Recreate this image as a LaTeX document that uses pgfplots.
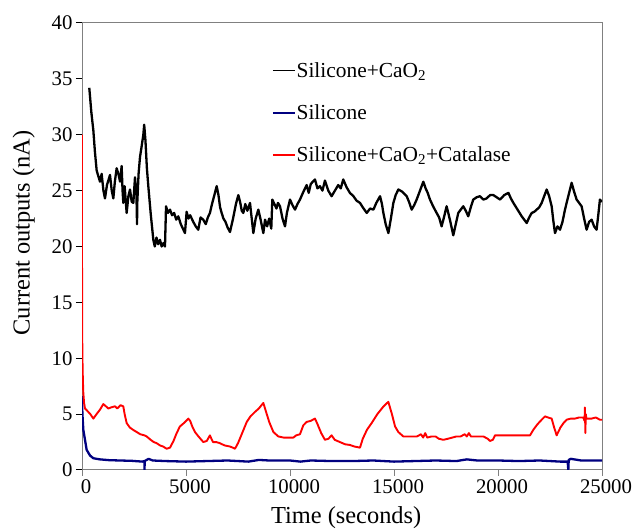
\documentclass[border=0pt]{standalone}
\usepackage{fontspec}
\setmainfont{Liberation Serif}
\usepackage{pgfplots}
\pgfplotsset{compat=1.18}
\definecolor{navyb}{RGB}{0,0,128}
\definecolor{axgray}{RGB}{128,128,128}
\begin{document}
\begin{tikzpicture}
\path[use as bounding box] (0pt,0pt) rectangle (632pt,529pt);
\begin{axis}[
  at={(82pt,59pt)}, anchor=south west,
  width=520pt, height=447pt, scale only axis,
  xmin=0, xmax=25000, ymin=0, ymax=40,
  xtick={0,5000,10000,15000,20000,25000},
  ytick={0,5,10,15,20,25,30,35,40},
  scaled ticks=false,
  /pgf/number format/1000 sep={},
  /pgf/number format/assume math mode=true,
  tick align=outside,
  xtick pos=bottom, ytick pos=left,
  major tick length=6pt,
  x axis line style={black, line width=1pt},
  y axis line style={axgray, line width=1pt},
  xtick style={axgray, line width=1pt},
  ytick style={black, line width=1pt},
  tick label style={font=\fontsize{20.8}{24}\selectfont},
  xticklabel style={xshift=4pt},
  label style={font=\fontsize{24.4}{28}\selectfont},
  xlabel={Time (seconds)},
  ylabel={Current outputs (nA)},
  xlabel style={at={(axis description cs:0.508,-0.107)}, anchor=center},
  ylabel style={at={(axis description cs:-0.112,0.53)}, anchor=center},
  legend cell align=left,
  legend style={draw=none, fill=none, at={(rel axis cs:0.365,0.915)}, anchor=north west,
    font=\fontsize{21.4}{24}\selectfont, inner sep=0pt, row sep=24pt,
    nodes={inner sep=1pt}},
  legend image code/.code={\draw[#1, line width=1.6pt] (0pt,0pt) -- (22pt,0pt);},
]
\addplot[black, line width=2.3pt, line join=round] coordinates {
(350,34.2)(450,32)(545,30.4)(620,28.5)(705,26.8)(800,26.2)(865,25.8)(945,26.5)
(1030,25.0)(1105,24.3)(1200,25.5)(1346,26.4)(1430,25.0)(1506,24.3)(1580,25.8)
(1666,27.0)(1750,26.5)(1830,25.8)(1906,27.2)(1950,25.0)(1986,23.9)(2050,25.4)
(2147,23.0)(2230,24.5)(2308,25.1)(2390,24.0)(2468,23.9)(2548,26.2)(2620,24.5)
(2645,22.0)(2660,24.0)(2720,26.5)(2788,28.0)(2870,29.0)(2948,30.0)(2990,30.9)
(3050,29.5)(3120,27.0)(3188,25.4)(3300,23.0)(3429,20.6)(3500,20.0)(3580,20.8)
(3660,20.2)(3750,20.6)(3830,20.0)(3910,20.3)(3990,20.0)(4040,23.6)(4130,23.0)
(4230,23.3)(4330,22.8)(4430,23.0)(4530,22.4)(4630,22.7)(4750,22.0)(4850,21.6)
(4950,21.2)(5030,23.1)(5120,22.5)(5200,22.8)(5350,22.2)(5470,21.8)(5590,21.5)
(5700,22.6)(5830,22.4)(5950,22.0)(6050,22.6)(6150,23.0)(6250,23.8)(6350,24.5)
(6475,25.4)(6560,24.6)(6640,23.5)(6715,23.0)(6800,22.5)(6900,22.2)(7000,21.7)
(7115,21.3)(7250,22.4)(7400,23.8)(7516,24.6)(7600,24.0)(7680,23.2)(7756,23.0)
(7850,23.8)(7950,23.2)(8077,23.9)(8160,22.5)(8237,21.2)(8350,22.5)(8477,23.3)
(8600,22.3)(8718,21.2)(8800,22.4)(8900,21.8)(9000,22.5)(9100,21.6)(9150,24.2)
(9250,23.8)(9350,23.4)(9420,23.9)(9520,23.6)(9640,22.5)(9760,21.8)(9850,23.0)
(10000,24.2)(10120,23.7)(10240,23.3)(10360,23.8)(10480,24.2)(10620,24.8)(10800,25.5)
(10900,24.8)(11000,25.6)(11200,26.0)(11320,25.2)(11440,25.4)(11560,25.0)(11680,25.9)
(11840,25.0)(12000,24.5)(12160,25.0)(12320,25.5)(12440,25.2)(12560,26.0)(12720,25.3)
(12880,24.8)(13050,24.5)(13200,24.1)(13365,23.9)(13500,23.5)(13690,23.0)(13850,23.4)
(14010,23.3)(14150,23.9)(14330,24.5)(14420,23.8)(14490,23.0)(14600,22.0)(14730,21.2)
(14850,22.5)(14970,23.9)(15080,24.6)(15210,25.1)(15400,24.9)(15610,24.5)(15720,24.0)
(15850,23.3)(15970,23.7)(16090,24.2)(16250,25.0)(16410,25.8)(16520,25.2)(16620,24.8)
(16730,24.2)(16880,23.6)(17050,23.0)(17170,22.6)(17290,21.8)(17400,22.6)(17530,23.6)
(17700,22.3)(17850,21.0)(17970,22.0)(18090,23.0)(18210,23.3)(18330,23.6)(18450,23.2)
(18570,22.7)(18690,23.5)(18810,24.2)(18970,24.4)(19130,24.5)(19300,24.2)(19450,24.3)
(19620,24.6)(19775,24.6)(19940,24.4)(20100,24.2)(20300,24.6)(20500,24.8)(20620,24.3)
(20740,23.9)(20940,23.3)(21140,22.7)(21260,22.4)(21380,22.1)(21500,22.6)(21620,23.0)
(21740,23.1)(21860,23.3)(21980,23.5)(22100,23.9)(22220,24.5)(22340,25.1)(22460,24.5)
(22580,23.6)(22660,22.3)(22740,21.2)(22860,21.8)(22980,21.5)(23100,22.2)(23220,23.3)
(23380,24.5)(23540,25.7)(23660,24.9)(23780,24.2)(23900,23.9)(24020,23.6)(24140,22.5)
(24260,21.5)(24380,22.2)(24500,22.4)(24620,21.8)(24740,21.5)(24820,22.8)(24900,24.2)
(25000,24.0)
};
\addlegendentry{Silicone+CaO\textsubscript{2}}
\addplot[navyb, line width=2.3pt, line join=round] coordinates {
(0,6.6)(20,5)(64,3.6)(144,2.7)(225,1.8)(385,1.3)(545,1.05)(865,0.95)(1300,0.88)
(1825,0.85)(2400,0.82)(2900,0.75)(3000,0.8)(3005,0.0)(3015,0.8)(3200,1.0)(3400,0.85)
(4000,0.8)(5000,0.75)(6000,0.8)(7000,0.85)(8000,0.75)(8500,0.9)(9000,0.85)
(10000,0.85)(10500,0.75)(11000,0.85)(12000,0.8)(13000,0.8)(14000,0.85)(15000,0.75)
(16000,0.8)(17000,0.85)(18000,0.8)(18500,0.95)(19000,0.85)(20000,0.85)(21000,0.8)
(22000,0.85)(23000,0.75)(23350,0.75)(23380,0.0)(23400,0.9)(23500,1.0)(24000,0.85)
(25000,0.85)
};
\addlegendentry{Silicone}
\addplot[red, line width=1.9pt, line join=round] coordinates {
(0,30)(0,20)(10,12)(30,9)(60,7)(100,6)(144,5.5)(250,5.3)(400,5.0)(545,4.6)(700,5.0)
(865,5.4)(1025,5.9)(1150,5.7)(1265,5.5)(1400,5.6)(1585,5.7)(1700,5.5)(1850,5.8)
(1985,5.7)(2050,5.0)(2147,4.2)(2300,3.8)(2450,3.6)(2628,3.4)(2800,3.2)(3000,3.1)
(3110,3.0)(3300,2.7)(3450,2.5)(3590,2.4)(3750,2.2)(3900,2.1)(4070,1.9)(4230,2.0)
(4400,2.6)(4550,3.3)(4710,3.9)(4900,4.2)(5110,4.6)(5200,4.4)(5300,3.9)(5430,3.4)
(5600,3.0)(5830,2.5)(6000,2.6)(6150,3.1)(6220,2.8)(6300,2.5)(6450,2.5)(6630,2.4)
(6850,2.2)(7115,2.1)(7250,2.0)(7355,1.9)(7500,2.4)(7700,3.3)(7920,4.3)(8100,4.8)
(8317,5.2)(8500,5.5)(8718,6.0)(8850,5.2)(9000,4.3)(9200,3.4)(9440,3.0)(9700,2.9)
(9950,2.9)(10160,2.9)(10300,3.1)(10480,3.2)(10640,4.0)(10800,4.3)(11000,4.4)
(11200,4.6)(11300,4.2)(11500,3.3)(11680,2.7)(11850,2.8)(12000,3.1)(12150,2.7)
(12400,2.5)(12650,2.3)(12880,2.24)(13100,2.1)(13365,2.0)(13500,2.8)(13700,3.6)
(13926,4.2)(14200,5.0)(14500,5.7)(14727,6.1)(14900,5.0)(15050,3.9)(15207,3.4)
(15450,3.0)(15800,3.0)(16100,3.0)(16300,3.2)(16400,2.9)(16500,3.3)(16600,2.9)
(16800,3.0)(17000,3.0)(17150,2.8)(17370,2.7)(17600,2.8)(17800,2.9)(18000,3.0)
(18200,3.0)(18400,3.2)(18500,3.0)(18600,3.3)(18700,3.0)(18900,3.0)(19100,3.0)
(19300,3.0)(19500,2.8)(19615,2.6)(19750,2.7)(19856,3.1)(20200,3.1)(20600,3.1)
(21000,3.1)(21400,3.1)(21540,3.1)(21700,3.6)(21900,4.1)(22100,4.5)(22260,4.8)
(22400,4.7)(22580,4.6)(22700,3.8)(22820,3.1)(23000,3.8)(23150,4.2)(23300,4.5)
(23500,4.6)(23700,4.6)(23900,4.7)(24100,4.7)(24160,4.4)(24180,5.6)(24200,3.3)
(24220,5.0)(24250,4.6)(24500,4.6)(24700,4.7)(24900,4.5)(25000,4.5)
};
\addlegendentry{Silicone+CaO\textsubscript{2}+Catalase}
\end{axis}
\end{tikzpicture}
\end{document}
